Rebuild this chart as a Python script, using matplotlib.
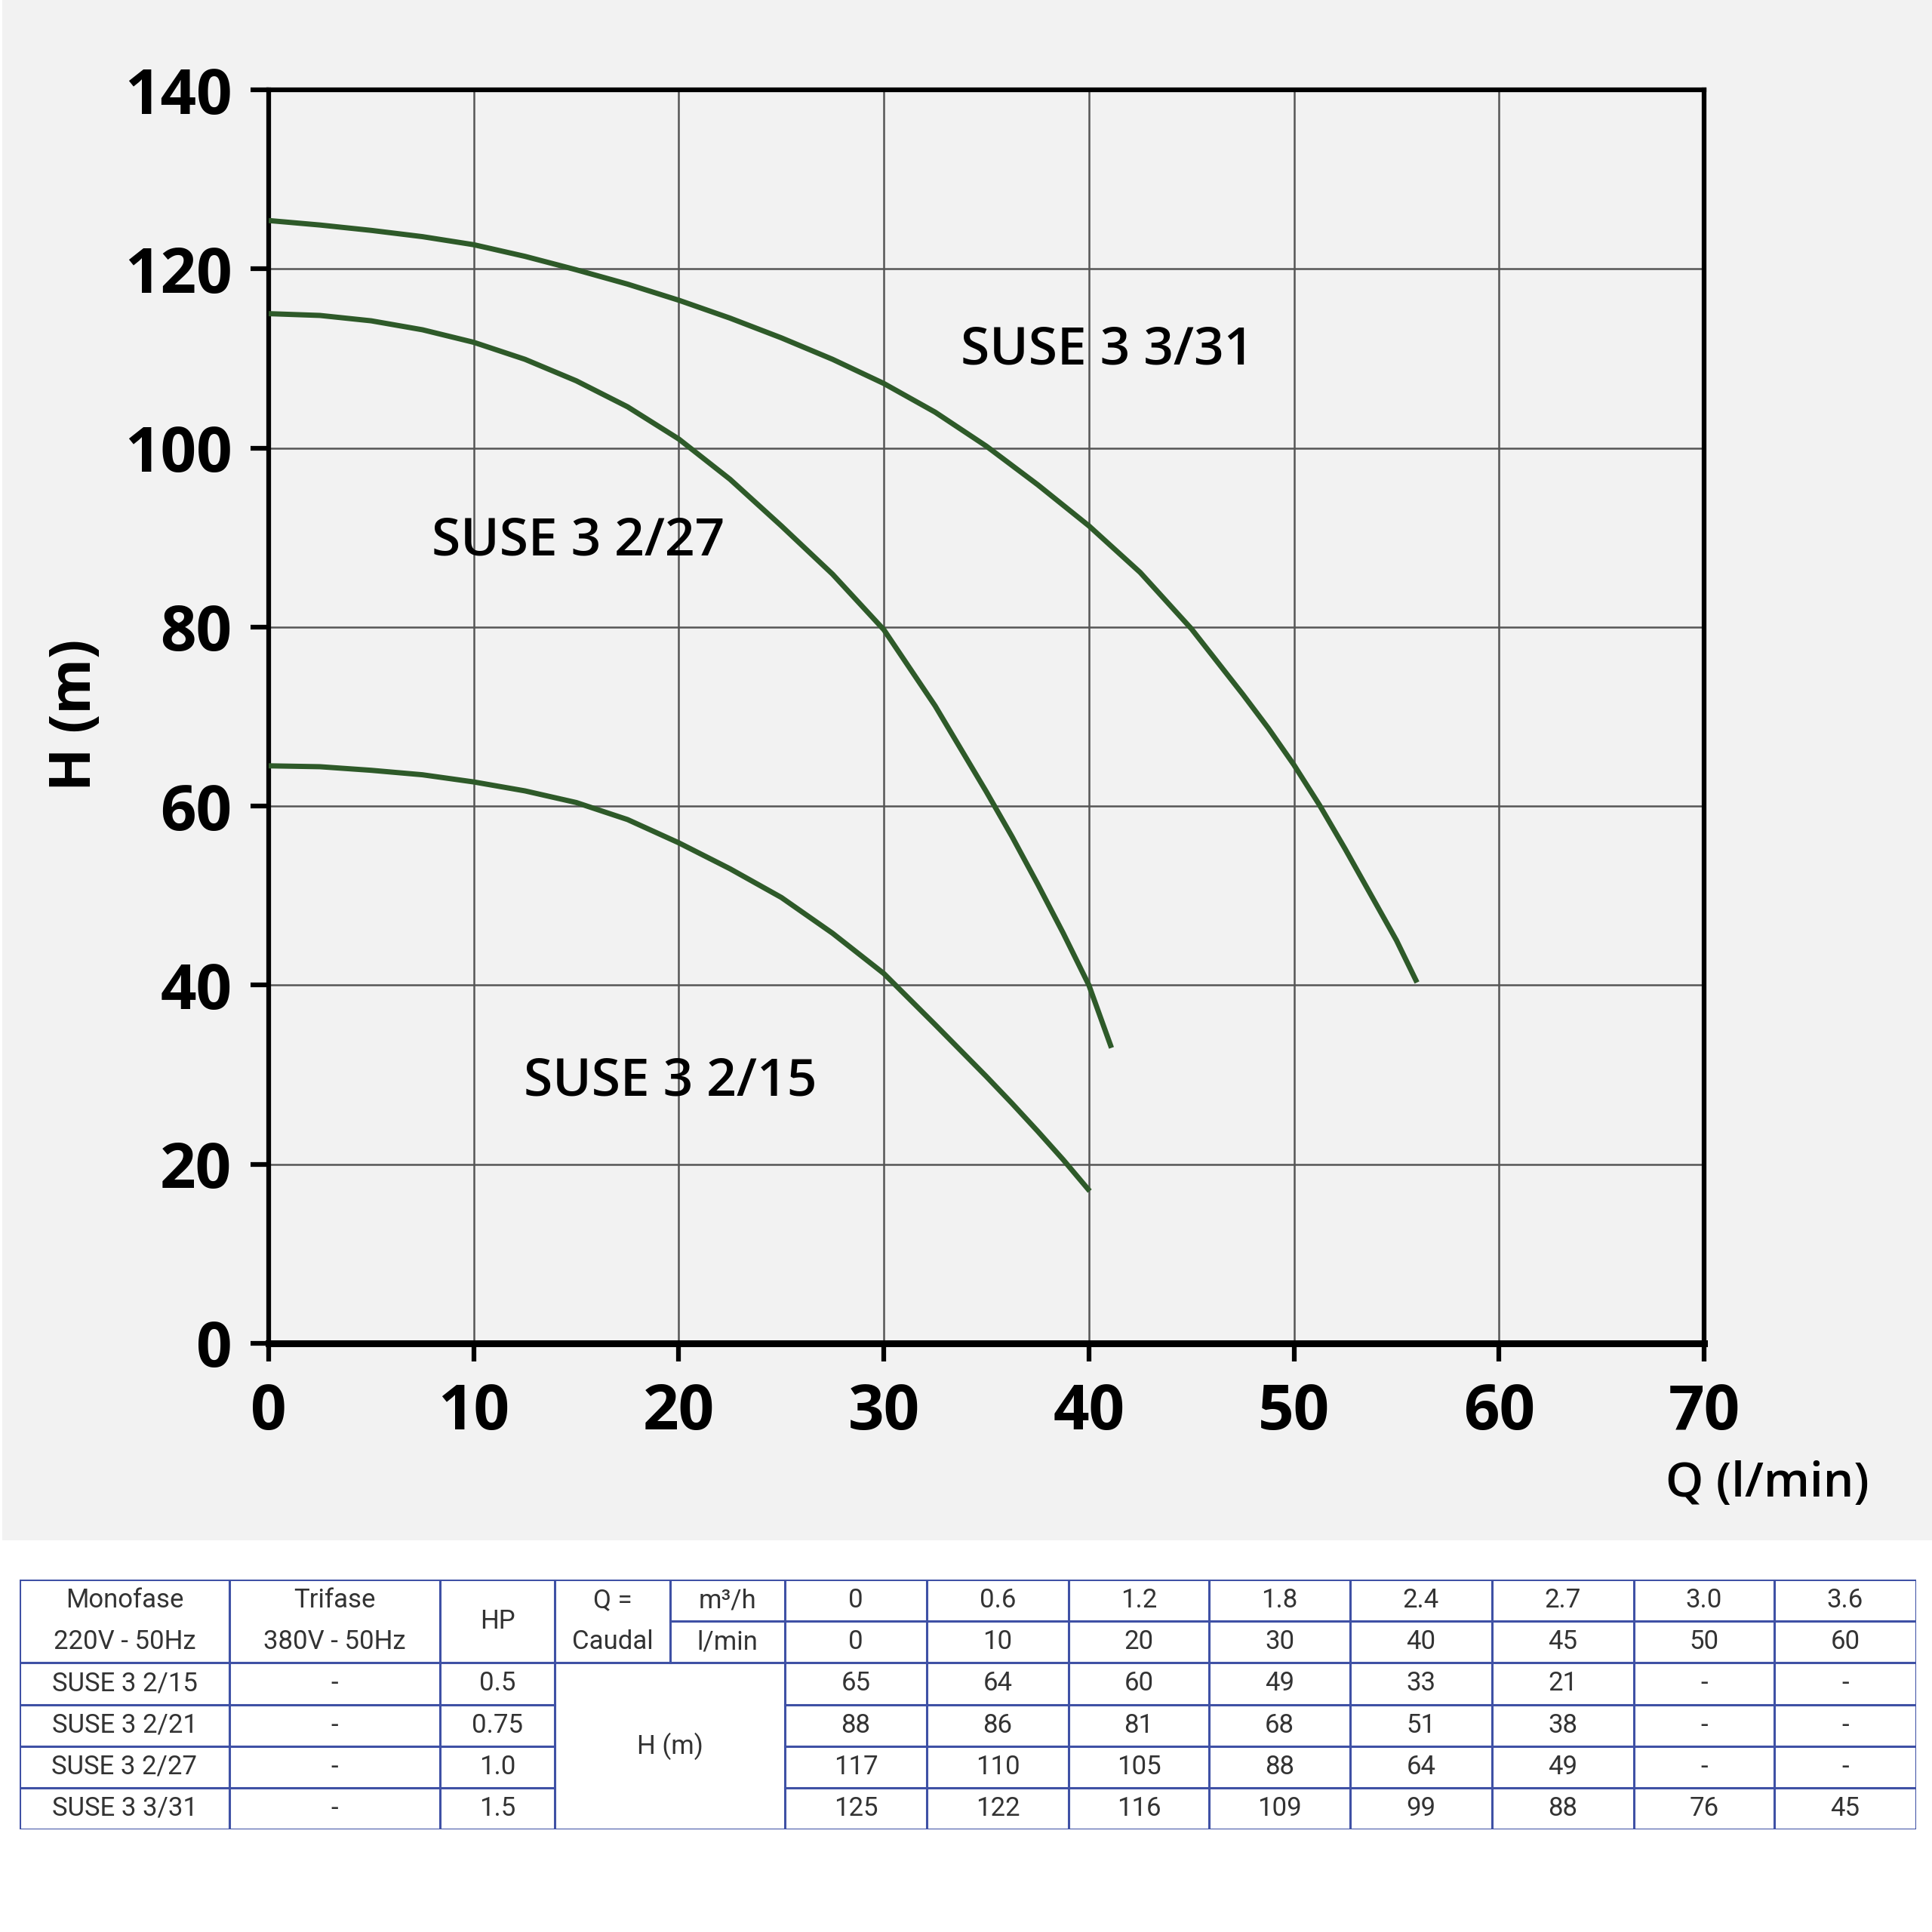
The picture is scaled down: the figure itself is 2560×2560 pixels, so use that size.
import numpy as np
import matplotlib
matplotlib.use("Agg")
import matplotlib.pyplot as plt
from matplotlib.patches import Rectangle

# curve points (Q in l/min, H in m)
q_2_15 = [0, 2.5, 5, 7.5, 10, 12.5, 15, 17.5, 20, 22.5, 25, 27.5, 30, 32.5, 33.75, 35, 36.25,
          37.5, 38.75, 40.04]
h_2_15 = [64.5, 64.4, 64.0, 63.5, 62.7, 61.7, 60.4, 58.5, 55.9, 53.0, 49.8, 45.8, 41.3, 35.6, 32.7,
          29.8, 26.8, 23.7, 20.5, 17.0]

q_2_27 = [0, 2.5, 5, 7.5, 10, 12.5, 15, 17.5, 20, 22.5, 25, 27.5, 30, 32.5, 35, 36.25, 37.5,
          38.75, 40, 41.1]
h_2_27 = [115.0, 114.8, 114.2, 113.2, 111.8, 109.9, 107.5, 104.6, 101.0, 96.5, 91.3, 85.9, 79.7,
          71.2, 61.6, 56.6, 51.3, 45.8, 40.0, 33.0]

q_3_31 = [0, 2.5, 5, 7.5, 10, 12.5, 15, 17.5, 20, 22.5, 25, 27.5, 30, 32.5, 35, 37.5, 40, 42.5, 45,
          47.5, 48.75, 50, 51.25, 52.5, 53.75, 55, 56.0]
h_3_31 = [125.4, 124.9, 124.3, 123.6, 122.7, 121.4, 119.9, 118.3, 116.5, 114.5, 112.3, 109.9, 107.2,
          104.0, 100.2, 95.9, 91.3, 86.1, 79.8, 72.5, 68.7, 64.6, 60.1, 55.2, 50.1, 45.0, 40.3]

curve_names = ["SUSE 3 2/15", "SUSE 3 2/27", "SUSE 3 3/31"]
label_pos = [(19.6, 29.2), (15.1, 89.5), (40.9, 110.8)]

x_ticks = [0, 10, 20, 30, 40, 50, 60, 70]
y_ticks = [0, 20, 40, 60, 80, 100, 120, 140]

# table contents
models = ["SUSE 3 2/15", "SUSE 3 2/21", "SUSE 3 2/27", "SUSE 3 3/31"]
trifase = ["-", "-", "-", "-"]
hp = ["0.5", "0.75", "1.0", "1.5"]
q_m3h = ["0", "0.6", "1.2", "1.8", "2.4", "2.7", "3.0", "3.6"]
q_lmin = ["0", "10", "20", "30", "40", "45", "50", "60"]
h_rows = [
    ["65", "64", "60", "49", "33", "21", "-", "-"],
    ["88", "86", "81", "68", "51", "38", "-", "-"],
    ["117", "110", "105", "88", "64", "49", "-", "-"],
    ["125", "122", "116", "109", "99", "88", "76", "45"],
]

W = 2560
sans = ["Open Sans", "DejaVu Sans"]
narrow = ["Roboto", "DejaVu Sans"]
green = "#2e5a29"
bg = "#f2f2f2"

fig = plt.figure(figsize=(25.6, 25.6), dpi=100, facecolor="white")
fig.patches.append(Rectangle((3 / W, 1 - 2041 / W), 1 - 3 / W, 2041 / W,
                             transform=fig.transFigure, facecolor=bg,
                             edgecolor="none", zorder=-10))

# ---- chart ----
ax = fig.add_axes([356 / W, 1 - 1780 / W, (2258 - 356) / W, (1780 - 119) / W])
ax.set_facecolor(bg)
ax.set_xlim(0, 70)
ax.set_ylim(0, 140)
ax.set_xticks(x_ticks)
ax.set_yticks(y_ticks)
ax.grid(True, color="#555555", linewidth=1.8, zorder=1)
ax.set_axisbelow(True)
for side in ["left", "right", "top"]:
    ax.spines[side].set_linewidth(4.5)
    ax.spines[side].set_color("black")
ax.spines["bottom"].set_linewidth(6.5)
ax.tick_params(axis="both", direction="out", length=17, width=4.5, color="black")
ax.tick_params(axis="y", pad=18)
ax.tick_params(axis="x", pad=20)
for lab in ax.get_xticklabels() + ax.get_yticklabels():
    lab.set_family(sans)
    lab.set_fontweight("bold")
    lab.set_fontsize(60)

for q, h in [(q_2_15, h_2_15), (q_2_27, h_2_27), (q_3_31, h_3_31)]:
    ax.plot(q, h, color=green, linewidth=5, solid_capstyle="butt",
            solid_joinstyle="round", zorder=3)

for name, (x, y) in zip(curve_names, label_pos):
    ax.text(x, y, name, ha="center", va="center", fontsize=50,
            family=sans, fontweight="semibold", zorder=4)

fig.text(100 / W, 1 - 947 / W, "H (m)", rotation=90, ha="center", va="center",
         fontsize=54, family=sans, fontweight="bold")
fig.text(2207 / W, 1 - 1966 / W, "Q (l/min)", ha="left", va="center",
         fontsize=46, family=sans, fontweight="semibold")

# ---- table ----
col_edges = [26, 304, 583, 735, 888, 1040, 1228, 1416, 1602, 1789, 1977, 2165, 2351, 2539]
tab = fig.add_axes([26 / W, 1 - 2424 / W, (2539 - 26) / W, (2424 - 2093) / W])
tab.set_xlim(col_edges[0], col_edges[-1])
tab.set_ylim(0, 6)
tab.axis("off")
line_kw = dict(color="#3f51a5", linewidth=2.2, solid_capstyle="projecting")

# horizontal lines
tab.plot([col_edges[0], col_edges[-1]], [6, 6], **line_kw)
tab.plot([col_edges[0], col_edges[-1]], [0, 0], **line_kw)
tab.plot([col_edges[0], col_edges[-1]], [4, 4], **line_kw)
tab.plot([col_edges[4], col_edges[-1]], [5, 5], **line_kw)
for yy in [1, 2, 3]:
    tab.plot([col_edges[0], col_edges[3]], [yy, yy], **line_kw)
    tab.plot([col_edges[5], col_edges[-1]], [yy, yy], **line_kw)
# vertical lines
for i, xe in enumerate(col_edges):
    if i == 4:
        tab.plot([xe, xe], [4, 6], **line_kw)
    else:
        tab.plot([xe, xe], [0, 6], **line_kw)

centers = [(col_edges[i] + col_edges[i + 1]) / 2 for i in range(len(col_edges) - 1)]
txt_kw = dict(ha="center", va="center", fontsize=25, family=narrow, color="#333333")

tab.text(centers[0], 5.5, "Monofase", **txt_kw)
tab.text(centers[0], 4.5, "220V - 50Hz", **txt_kw)
tab.text(centers[1], 5.5, "Trifase", **txt_kw)
tab.text(centers[1], 4.5, "380V - 50Hz", **txt_kw)
tab.text(centers[2], 5.0, "HP", **txt_kw)
tab.text(centers[3], 5.5, "Q =", **txt_kw)
tab.text(centers[3], 4.5, "Caudal", **txt_kw)
tab.text(centers[4], 5.5, "m³/h", **txt_kw)
tab.text(centers[4], 4.5, "l/min", **txt_kw)
for j, (a, b) in enumerate(zip(q_m3h, q_lmin)):
    tab.text(centers[5 + j], 5.5, a, **txt_kw)
    tab.text(centers[5 + j], 4.5, b, **txt_kw)

tab.text((col_edges[3] + col_edges[5]) / 2, 2.0, "H (m)", **txt_kw)
for r in range(len(models)):
    yc = 3.5 - r
    tab.text(centers[0], yc, models[r], **txt_kw)
    tab.text(centers[1], yc, trifase[r], **txt_kw)
    tab.text(centers[2], yc, hp[r], **txt_kw)
    for j, v in enumerate(h_rows[r]):
        tab.text(centers[5 + j], yc, v, **txt_kw)

fig.savefig("out.png", dpi=100, facecolor="white")
